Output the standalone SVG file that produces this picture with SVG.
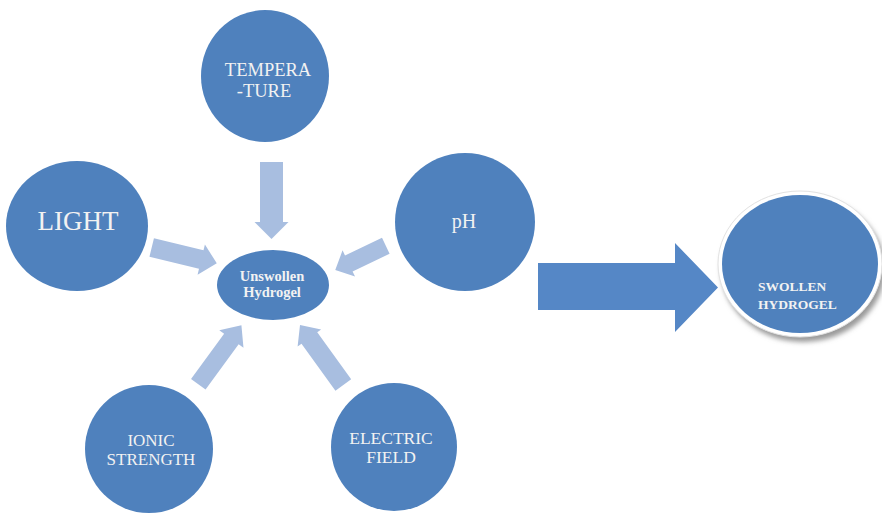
<svg xmlns="http://www.w3.org/2000/svg" width="882" height="516" viewBox="0 0 882 516">
  <defs>
    <filter id="soft" x="-20%" y="-20%" width="140%" height="140%">
      <feGaussianBlur stdDeviation="2.5"/>
    </filter>
  </defs>
  <style>
    .node { fill: #4f81bd; }
    .lbl { font-family: "Liberation Serif", "Times New Roman", serif; fill: #f2f2f2; }
    .mid { text-anchor: middle; }
    .start { text-anchor: start; }
    .small { fill: #a8bee0; }
    .big { fill: #5587c6; }
  </style>
  <rect width="882" height="516" fill="#ffffff"/>

  <!-- connectors -->
  <g id="connectors">
    <polygon class="small" transform="translate(151.7,247.5) rotate(13.7)" points="0,-9.5 51,-9.5 51,-15.5 67,0 51,15.5 51,9.5 0,9.5"/>
    <polygon class="small" transform="translate(271.5,162) rotate(90)" points="0,-11.5 60,-11.5 60,-17 77,0 60,17 60,11.5 0,11.5"/>
    <polygon class="small" transform="translate(385.8,245.8) rotate(154.5)" points="0,-8.8 41,-8.8 41,-14.5 56,0 41,14.5 41,8.8 0,8.8"/>
    <polygon class="small" transform="translate(198.3,384.2) rotate(-53.8)" points="0,-9 56,-9 56,-15 73,0 56,15 56,9 0,9"/>
    <polygon class="small" transform="translate(343.3,385) rotate(-125.8)" points="0,-9.7 58,-9.7 58,-14.5 74,0 58,14.5 58,9.7 0,9.7"/>
    <polygon class="big" points="538,263 675,263 675,243 718,287.5 675,332 675,310 538,310"/>
  </g>

  <g id="temperature">
    <ellipse class="node" cx="265" cy="76" rx="64" ry="66"/>
    <text class="lbl mid" x="268" y="76" font-size="18.5">TEMPERA</text>
    <text class="lbl mid" x="264" y="97" font-size="18.5">-TURE</text>
  </g>

  <g id="light">
    <ellipse class="node" cx="77" cy="226" rx="71" ry="65"/>
    <text class="lbl mid" x="78" y="230" font-size="27">LIGHT</text>
  </g>

  <g id="ph">
    <ellipse class="node" cx="465" cy="222" rx="70" ry="69"/>
    <text class="lbl mid" x="464" y="228" font-size="20">pH</text>
  </g>

  <g id="unswollen">
    <ellipse class="node" cx="273" cy="285" rx="56" ry="35"/>
    <text class="lbl mid" x="272" y="281" font-size="14.5" font-weight="bold">Unswollen</text>
    <text class="lbl mid" x="272" y="297" font-size="14.5" font-weight="bold">Hydrogel</text>
  </g>

  <g id="ionic">
    <ellipse class="node" cx="149" cy="449" rx="64" ry="64"/>
    <text class="lbl mid" x="151" y="446" font-size="17">IONIC</text>
    <text class="lbl mid" x="151" y="465" font-size="17">STRENGTH</text>
  </g>

  <g id="electric">
    <ellipse class="node" cx="394" cy="447" rx="63" ry="64"/>
    <text class="lbl mid" x="391" y="444" font-size="17.5">ELECTRIC</text>
    <text class="lbl mid" x="391" y="463" font-size="17.5">FIELD</text>
  </g>

  <g id="swollen">
    <ellipse cx="803" cy="269" rx="82" ry="73" fill="#9a9a9a" filter="url(#soft)"/>
    <ellipse cx="800" cy="264" rx="82" ry="73" fill="#ffffff" stroke="#e2e2e2" stroke-width="1"/>
    <ellipse class="node" cx="800" cy="264" rx="78" ry="69"/>
    <text class="lbl start" x="758" y="291" font-size="13.5" font-weight="bold">SWOLLEN</text>
    <text class="lbl start" x="758" y="309" font-size="13.5" font-weight="bold">HYDROGEL</text>
  </g>
</svg>
